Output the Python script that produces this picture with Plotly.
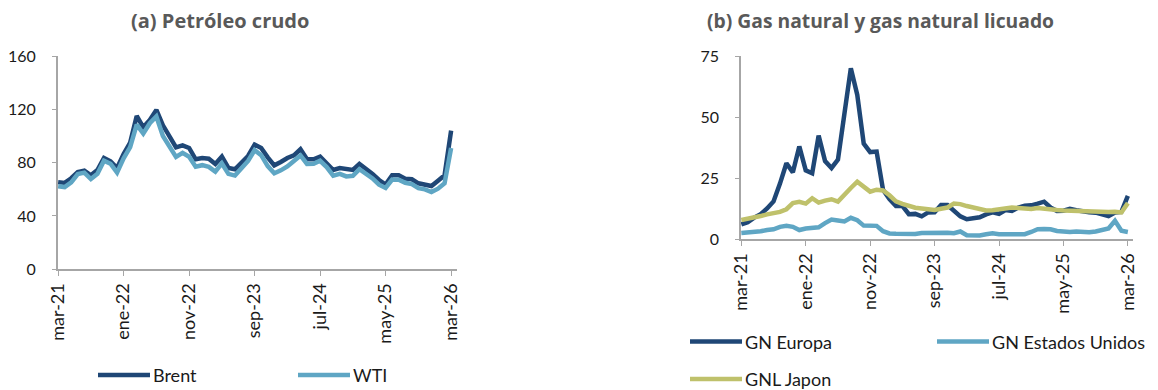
import pandas as pd
import plotly.graph_objects as go

# ---------------- data ----------------
months = pd.date_range("2021-03-01", "2026-03-01", freq="MS")
tick_labels = ["mar-21", "ene-22", "nov-22", "sep-23", "jul-24", "may-25", "mar-26"]
tick_positions_months = ["2021-03", "2022-01", "2022-11", "2023-09", "2024-07", "2025-05", "2026-03"]

brent = [65.4, 64.8, 68.3, 73.0, 74.0, 70.5, 74.5, 83.5, 81.0, 76.0,
         86.5, 95.0, 115.0, 106.5, 112.0, 119.5, 108.0, 99.5, 91.5, 93.0, 91.0, 82.5,
         83.5, 83.0, 79.0, 84.5, 76.0, 75.0, 79.5, 85.0, 93.5, 91.0, 84.0, 78.0,
         80.5, 83.5, 85.5, 90.0, 82.5, 82.5, 84.5, 80.0, 74.5, 76.0, 75.0, 74.5,
         79.0, 75.5, 71.5, 67.0, 63.5, 70.5, 70.5, 68.0, 67.5, 64.5, 63.5, 62.5,
         66.5, 70.5, 104.0]
wti = [62.3, 61.7, 65.2, 71.4, 72.5, 67.7, 71.6, 81.5, 79.2, 72.5,
       83.2, 91.6, 108.5, 101.8, 109.6, 114.6, 100.0, 91.6, 84.3, 87.3, 84.4, 77.0,
       78.1, 76.8, 73.3, 79.4, 71.6, 70.3, 76.0, 81.3, 89.4, 85.6, 77.4, 72.0,
       74.2, 77.2, 81.3, 85.4, 79.0, 79.1, 81.4, 76.7, 70.2, 71.6, 69.7, 70.1,
       75.1, 71.5, 68.2, 63.5, 61.0, 67.3, 67.2, 64.9, 63.9, 60.9, 60.0, 58.0,
       60.5, 64.5, 91.0]
gn_europa = [6.1, 7.0, 8.9, 10.3, 12.6, 15.5, 22.8, 31.1, 27.4, 38.0,
             28.2, 27.0, 42.4, 32.0, 29.2, 32.6, 51.3, 70.0, 59.1, 39.2, 35.7, 35.9,
             20.2, 16.5, 13.6, 13.7, 10.3, 10.4, 9.4, 11.0, 11.1, 14.0, 14.0, 11.8,
             9.4, 8.2, 8.5, 9.0, 10.2, 11.0, 10.4, 12.0, 11.6, 13.0, 13.7, 13.9,
             14.6, 15.4, 13.0, 11.6, 11.7, 12.5, 11.9, 11.3, 11.1, 10.9, 10.3, 9.5,
             11.0, 11.2, 17.8]
gn_eeuu = [2.6, 2.7, 2.9, 3.3, 3.8, 4.1, 5.1, 5.5, 5.1, 3.8,
           4.4, 4.7, 4.9, 6.6, 8.1, 7.7, 7.3, 8.8, 7.8, 5.6, 5.5, 5.5,
           3.3, 2.4, 2.3, 2.2, 2.1, 2.2, 2.6, 2.6, 2.6, 3.0, 2.7, 2.5,
           3.2, 1.7, 1.5, 1.6, 2.1, 2.5, 2.1, 2.0, 2.3, 2.2, 2.1, 3.0,
           4.1, 4.2, 4.1, 3.4, 3.1, 3.0, 3.2, 2.9, 2.9, 3.2, 3.8, 4.4,
           7.6, 3.5, 3.0]
gnl_japon = [7.9, 8.3, 8.8, 9.5, 10.2, 10.7, 11.2, 12.3, 14.8, 15.3,
             14.6, 16.8, 15.0, 15.8, 16.4, 15.4, 18.5, 21.0, 23.6, 21.5, 19.5, 20.3,
             20.0, 18.0, 15.5, 14.5, 13.5, 12.9, 12.6, 12.3, 12.0, 12.5, 13.0, 14.6,
             14.4, 13.6, 13.0, 12.0, 11.8, 11.9, 12.2, 12.8, 13.0, 12.8, 12.6, 12.4,
             12.8, 12.4, 12.3, 12.0, 11.8, 11.7, 11.5, 11.3, 11.2, 11.0, 11.0, 11.2,
             11.3, 11.0, 14.8]

# ---------------- style ----------------
PAGE_OFF = 8               # default body margin of the html page
W, H = 1158 - PAGE_OFF, 390 - PAGE_OFF
C_BRENT = "#1f4776"
C_WTI = "#5fa6c4"
C_JAPON = "#bfc16b"
AXIS_C = "#a6a6a6"
FONT = "Lato"
TITLE_FONT = "Open Sans"
TXT = "#1a1a1a"

month_keys = [d.strftime("%Y-%m") for d in months]
x = list(range(len(months)))
tickvals = [month_keys.index(k) for k in tick_positions_months]


def px_x(p):
    return (p - PAGE_OFF) / W


def px_y(p):
    return 1 - (p - PAGE_OFF) / H


fig = go.Figure()
fig.add_trace(go.Scatter(x=x, y=brent, mode="lines", name="Brent",
                         line=dict(color=C_BRENT, width=4.5), xaxis="x", yaxis="y"))
fig.add_trace(go.Scatter(x=x, y=wti, mode="lines", name="WTI",
                         line=dict(color=C_WTI, width=4.5), xaxis="x", yaxis="y"))
fig.add_trace(go.Scatter(x=x, y=gn_europa, mode="lines", name="GN Europa",
                         line=dict(color=C_BRENT, width=4.5), xaxis="x2", yaxis="y2"))
fig.add_trace(go.Scatter(x=x, y=gn_eeuu, mode="lines", name="GN Estados Unidos",
                         line=dict(color=C_WTI, width=4.5), xaxis="x2", yaxis="y2"))
fig.add_trace(go.Scatter(x=x, y=gnl_japon, mode="lines", name="GNL Japon",
                         line=dict(color=C_JAPON, width=4.5), xaxis="x2", yaxis="y2"))

common_x = dict(tickmode="array", tickvals=tickvals, ticktext=tick_labels,
                tickangle=-90, showline=True, linecolor=AXIS_C, linewidth=1.5,
                ticks="outside", tickcolor=AXIS_C, ticklen=5, tickwidth=1.3,
                showgrid=False, zeroline=False, ticklabelstandoff=0, automargin=False,
                tickfont=dict(family=FONT, size=18, color=TXT))
common_y = dict(showline=True, linecolor=AXIS_C, linewidth=1.5,
                ticks="outside", tickcolor=AXIS_C, ticklen=4, tickwidth=1.3,
                showgrid=False, zeroline=False, ticklabelstandoff=13, automargin=False,
                tickfont=dict(family=FONT, size=16, color=TXT))

fig.update_layout(
    width=W, height=H, margin=dict(l=0, r=0, t=0, b=0, autoexpand=False),
    paper_bgcolor="white", plot_bgcolor="white", showlegend=False,
    font=dict(family=FONT, color=TXT),
    xaxis=dict(domain=[px_x(57.8), px_x(457)], range=[-0.05, 60.9], anchor="y", **common_x),
    yaxis=dict(domain=[px_y(269.3), px_y(56)], range=[0, 160], tickvals=[0, 40, 80, 120, 160],
               anchor="x", **common_y),
    xaxis2=dict(domain=[px_x(741), px_x(1133)], range=[-0.05, 60.8], anchor="y2", **common_x),
    yaxis2=dict(domain=[px_y(239.3), px_y(56)], range=[0, 75], tickvals=[0, 25, 50, 75],
                anchor="x2", **common_y),
)

# titles
fig.add_annotation(x=px_x(220), y=px_y(20.5), xref="paper", yref="paper",
                   text="<b>(a) Petróleo crudo</b>", showarrow=False,
                   font=dict(family=TITLE_FONT, size=20, color="#595959"),
                   xanchor="center", yanchor="middle")
fig.add_annotation(x=px_x(880.5), y=px_y(20.5), xref="paper", yref="paper",
                   text="<b>(b) Gas natural y gas natural licuado</b>", showarrow=False,
                   font=dict(family=TITLE_FONT, size=19.3, color="#595959"),
                   xanchor="center", yanchor="middle")

# custom legends
legend_items = [
    ("Brent", C_BRENT, 98, 150, 375),
    ("WTI", C_WTI, 298, 350, 375),
    ("GN Europa", C_BRENT, 690, 742, 341.5),
    ("GN Estados Unidos", C_WTI, 937, 989, 341.5),
    ("GNL Japon", C_JAPON, 690, 742, 379),
]
for name, col, x0, x1, yy in legend_items:
    fig.add_shape(type="line", xref="paper", yref="paper",
                  x0=px_x(x0), x1=px_x(x1), y0=px_y(yy), y1=px_y(yy),
                  line=dict(color=col, width=4.5))
    fig.add_annotation(x=px_x(x1 + 1), y=px_y(yy), xref="paper", yref="paper",
                       text=name, showarrow=False, xanchor="left", yanchor="middle",
                       font=dict(family=FONT, size=18, color=TXT))

fig.write_html("out.html")
